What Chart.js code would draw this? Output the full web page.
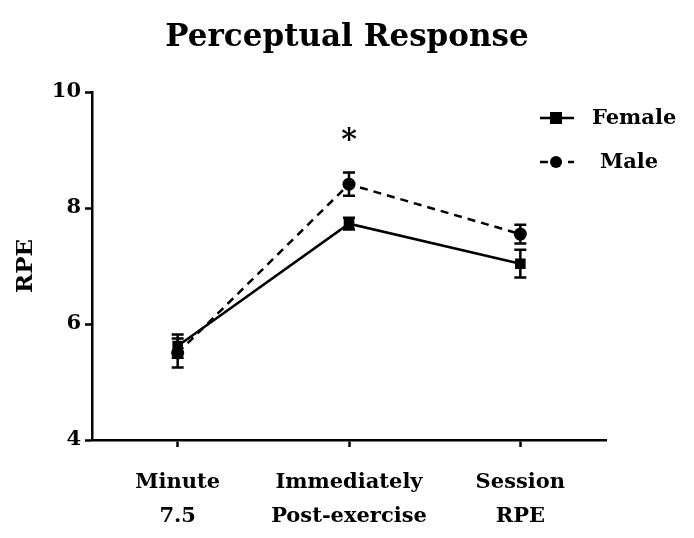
<!DOCTYPE html>
<html>
<head>
<meta charset="utf-8">
<script src="https://cdn.jsdelivr.net/npm/chart.js@4"></script>
<style>
  html, body { margin: 0; padding: 0; background: #fff; }
  #grafica { display: block; }
</style>
</head>
<body>
<canvas id="grafica" width="694" height="538"></canvas>
<script>
// datos
const categorias = [['Minute', '7.5'], ['Immediately', 'Post-exercise'], ['Session', 'RPE']];
const female = [5.62, 7.73, 7.04];
const femaleErr = [0.2, 0.1, 0.24];
const male = [5.5, 8.41, 7.55];
const maleErr = [0.25, 0.2, 0.16];
const asterisco = [null, 9.25, null];
const yTicks = [4, 6, 8, 10];

const FUENTE = "'DejaVu Serif', serif";

// titulo, barras de error, asterisco y leyenda
const extras = {
    id: 'extras',
    afterDraw(chart) {
        const { ctx } = chart;
        ctx.save();
        ctx.fillStyle = '#000';
        ctx.font = 'bold 31px ' + FUENTE;
        ctx.textAlign = 'center';
        ctx.textBaseline = 'alphabetic';
        ctx.fillText('Perceptual Response', 347, 46);
        ctx.restore();
    },
    afterDatasetsDraw(chart) {
        const { ctx, scales } = chart;
        const x = scales.x, y = scales.y;
        const errores = [femaleErr, maleErr];

        ctx.save();
        ctx.strokeStyle = '#000';
        ctx.lineWidth = 2.5;
        chart.data.datasets.forEach((ds, i) => {
            ds.data.forEach((v, j) => {
                const px = x.getPixelForValue(j);
                const top = y.getPixelForValue(v + errores[i][j]);
                const bot = y.getPixelForValue(v - errores[i][j]);
                ctx.beginPath();
                ctx.moveTo(px, top); ctx.lineTo(px, bot);
                ctx.moveTo(px - 6, top); ctx.lineTo(px + 6, top);
                ctx.moveTo(px - 6, bot); ctx.lineTo(px + 6, bot);
                ctx.stroke();
            });
        });

        // asterisco
        ctx.fillStyle = '#000';
        ctx.font = 'bold 30px ' + FUENTE;
        ctx.textAlign = 'center';
        ctx.textBaseline = 'middle';
        asterisco.forEach((v, j) => {
            if (v == null) return;
            ctx.fillText('*', x.getPixelForValue(j), y.getPixelForValue(v) + 6);
        });

        // leyenda
        ctx.font = 'bold 21px ' + FUENTE;
        ctx.textAlign = 'left';
        chart.data.datasets.forEach((ds, i) => {
            const ly = 118 + i * 44;
            ctx.save();
            ctx.setLineDash(ds.borderDash || []);
            ctx.lineWidth = 2.5;
            ctx.beginPath();
            ctx.moveTo(540, ly); ctx.lineTo(574, ly);
            ctx.stroke();
            ctx.restore();
            ctx.beginPath();
            if (ds.pointStyle === 'rect') {
                ctx.fillRect(550, ly - 6, 12, 12);
            } else {
                ctx.arc(556, ly, 6, 0, Math.PI * 2);
                ctx.fill();
            }
            ctx.fillText(ds.label, i === 0 ? 592 : 600, ly + 1);
        });
        ctx.restore();
    }
};

new Chart(document.getElementById('grafica'), {
    type: 'line',
    data: {
        labels: categorias,
        datasets: [
            {
                label: 'Female',
                data: female,
                borderColor: '#000',
                backgroundColor: '#000',
                borderWidth: 2.5,
                pointStyle: 'rect',
                pointRadius: 7.5,
                pointBorderWidth: 0
            },
            {
                label: 'Male',
                data: male,
                borderColor: '#000',
                backgroundColor: '#000',
                borderWidth: 2.5,
                borderDash: [8, 6],
                pointStyle: 'circle',
                pointRadius: 6.5,
                pointBorderWidth: 0
            }
        ]
    },
    options: {
        responsive: false,
        animation: false,
        layout: { padding: { top: 92, right: 88, bottom: 0, left: 0 } },
        plugins: {
            legend: { display: false },
            tooltip: { enabled: false },
            title: { display: false }
        },
        scales: {
            x: {
                offset: true,
                grid: { display: true, drawOnChartArea: false, tickLength: 7, tickWidth: 2.5, tickColor: '#000', offset: false },
                border: { display: true, width: 2.5, color: '#000' },
                ticks: {
                    color: '#000',
                    font: { family: FUENTE, size: 21, weight: 'bold', lineHeight: 1.6 },
                    padding: 19,
                    maxRotation: 0
                },
                afterFit(s) { s.height = 98; }
            },
            y: {
                min: 4,
                max: 10,
                afterBuildTicks(s) { s.ticks = yTicks.map(v => ({ value: v })); },
                grid: { display: true, drawOnChartArea: false, tickLength: 7, tickWidth: 2.5, tickColor: '#000' },
                border: { display: true, width: 2.5, color: '#000' },
                ticks: {
                    color: '#000',
                    font: { family: FUENTE, size: 21, weight: 'bold' },
                    padding: 4
                },
                title: {
                    display: true,
                    text: 'RPE',
                    color: '#000',
                    font: { family: FUENTE, size: 23, weight: 'bold' },
                    padding: { top: 12, bottom: 14 }
                },
                afterFit(s) { s.width = 92; }
            }
        }
    },
    plugins: [extras]
});
</script>
</body>
</html>
